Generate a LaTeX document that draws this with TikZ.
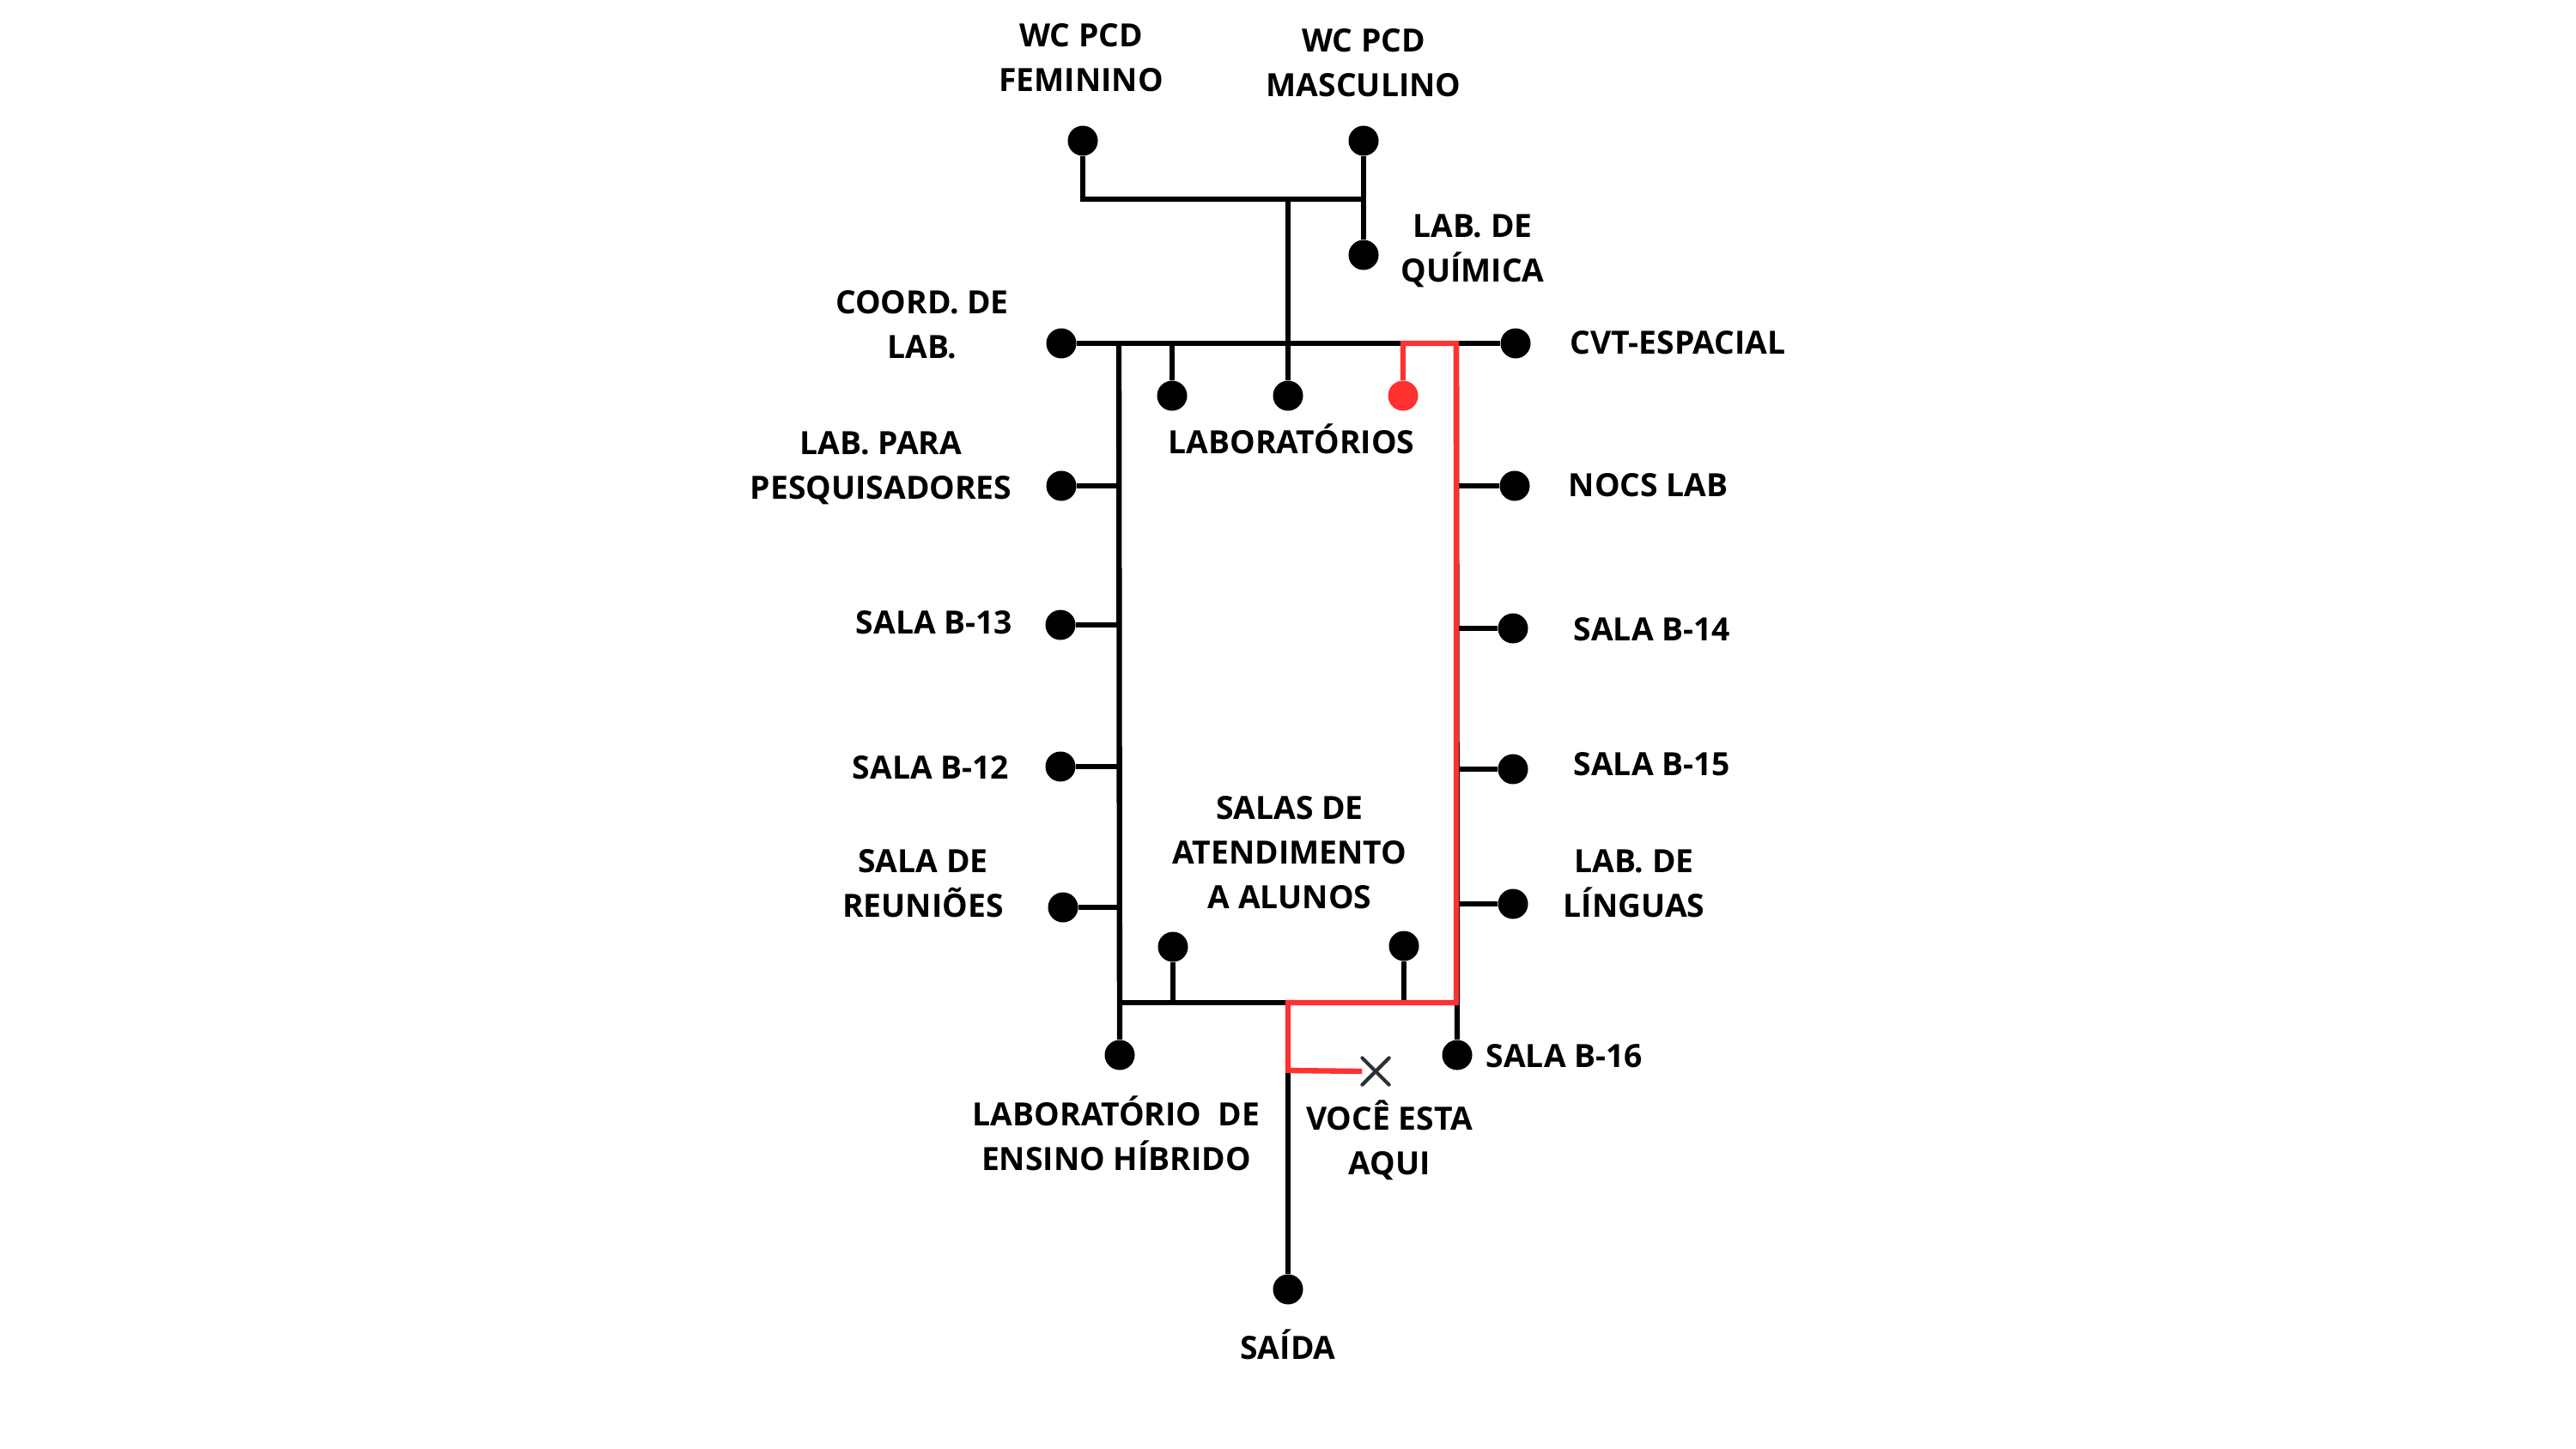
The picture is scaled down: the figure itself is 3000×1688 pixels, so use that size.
\documentclass[tikz,border=0pt]{standalone}
\usepackage{fontspec}
\setmainfont{Open Sans}
\usetikzlibrary{shapes.misc}
\definecolor{pathred}{RGB}{255,49,49}
\definecolor{markgray}{RGB}{44,48,52}
\begin{document}
\begin{tikzpicture}[x=0.01cm,y=-0.01cm,
  wire/.style={line width=1.8pt},
  route/.style={wire,draw=pathred,line join=miter},
  dot/.style={circle,fill=black,inner sep=0pt,minimum size=0.35cm},
  reddot/.style={dot,fill=pathred},
  lbl/.style={font=\fontsize{10.6}{14.8}\selectfont\bfseries,align=center,inner sep=0pt},
  one/.style={lbl,text height=7.6pt,text depth=0pt}]
\useasboundingbox (0,0) rectangle (3000,1688);

% rooms (dots)
\node[dot] (wcf)   at (1261,164) {};
\node[dot] (wcm)   at (1588,164) {};
\node[dot] (quim)  at (1588,297) {};
\node[dot] (coord) at (1236,400) {};
\node[dot] (cvt)   at (1765,400) {};
\node[dot] (lab1)  at (1365,461) {};
\node[dot] (lab2)  at (1500,461) {};
\node[reddot] (lab3) at (1634,461) {};
\node[dot] (pesq)  at (1236,566) {};
\node[dot] (nocs)  at (1764,566) {};
\node[dot] (b13)   at (1235,728) {};
\node[dot] (b14)   at (1762,732) {};
\node[dot] (b12)   at (1235,893) {};
\node[dot] (b15)   at (1762,896) {};
\node[dot] (reun)  at (1238,1057) {};
\node[dot] (ling)  at (1762,1053) {};
\node[dot] (at1)   at (1366,1103) {};
\node[dot] (at2)   at (1635,1102) {};
\node[dot] (hib)   at (1304,1229) {};
\node[dot] (b16)   at (1697,1229) {};
\node[dot] (saida) at (1500,1502) {};
\node[cross out,draw=markgray,line width=1.2pt,line cap=round,minimum size=0.27cm,inner sep=0pt] (here) at (1602,1248) {};

% corridor corners
\coordinate (barmid) at (1500,232);
\coordinate (tl) at (1303,400);
\coordinate (tr) at (1696,400);
\coordinate (bl) at (1303,1168);
\coordinate (br) at (1696,1168);
\coordinate (bm) at (1500,1168);
\coordinate (turn) at (1500,1247);

% corridors
\draw[wire] (wcf) |- (barmid) -- (wcm |- barmid);
\draw[wire] (wcm) -- (quim);
\draw[wire] (barmid) -- (lab2);
\draw[wire] (coord) -- (cvt);
\draw[wire] (tl) -- (hib);
\draw[wire] (tr) -- (b16);
\draw[wire] (bl) -- (bm);
\draw[wire] (lab1) -- (lab1 |- tl);
\draw[wire] (at1) -- (at1 |- bl);
\draw[wire] (at2) -- (at2 |- bl);
\draw[wire] (pesq) -- (pesq -| tl);
\draw[wire] (b13) -- (b13 -| tl);
\draw[wire] (b12) -- (b12 -| tl);
\draw[wire] (reun) -- (reun -| tl);
\draw[wire] (nocs) -- (nocs -| tr);
\draw[wire] (b14) -- (b14 -| tr);
\draw[wire] (b15) -- (b15 -| tr);
\draw[wire] (ling) -- (ling -| tr);
\draw[wire] (turn) -- (saida);

% route to the highlighted laboratory
\draw[route] (lab3) -- (lab3 |- tr) -- (tr) -- (br) -- (bm) -- (turn) -- (here.west);

% labels
\node[lbl] (wcfT)   at (1259,67)  {WC PCD\\FEMININO};
\node[lbl] (wcmT)   at (1588,73)  {WC PCD\\MASCULINO};
\node[lbl] (quimT)  at (1715,292) {LAB. DE\\QUÍMICA};
\node[lbl] (coordT) at (1074,378) {COORD. DE\\LAB.};
\node[lbl] (pesqT)  at (1026,545) {LAB. PARA\\PESQUISADORES};
\node[one] (b13T)   at (1088,725) {SALA B-13};
\node[one] (b12T)   at (1084,894) {SALA B-12};
\node[lbl] (reunT)  at (1075,1029) {SALA DE\\REUNIÕES};
\node[one,anchor=west] (cvtT)  at (1828,399) {CVT-ESPACIAL};
\node[one,anchor=west] (nocsT) at (1826,565) {NOCS LAB};
\node[one,anchor=west] (b14T)  at (1832,733) {SALA B-14};
\node[one,anchor=west] (b15T)  at (1832,890) {SALA B-15};
\node[lbl] (lingT)  at (1903,1029) {LAB. DE\\LÍNGUAS};
\node[one] (labT)   at (1504,515) {LABORATÓRIOS};
\node[lbl] (atT)    at (1502,993) {SALAS DE\\ATENDIMENTO\\A ALUNOS};
\node[lbl] (hibT)   at (1300,1320) {LABORATÓRIO\ \ DE\\ENSINO HÍBRIDO};
\node[one,anchor=west] (b16T) at (1730,1230) {SALA B-16};
\node[lbl] (vocT)   at (1618,1328) {VOCÊ ESTA\\AQUI};
\node[one] (saidaT) at (1500,1570) {SAÍDA};
\end{tikzpicture}
\end{document}
